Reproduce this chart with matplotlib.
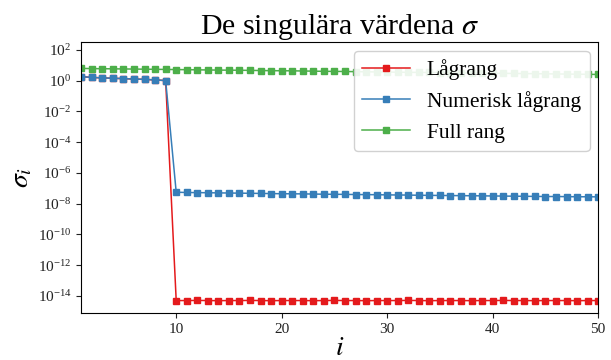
import matplotlib
matplotlib.use('Agg')
from matplotlib import pyplot as plt

plt.rcParams['font.family'] = ['Liberation Serif', 'DejaVu Serif']
plt.rcParams['mathtext.fontset'] = 'stix'

# index i
idx = list(range(1, 51))

# singular values per matrix
lagrang = [1.8, 1.6, 1.5, 1.4, 1.35, 1.25, 1.2, 1.1, 1.0,
           5.0e-15, 5.0e-15, 5.1e-15, 5.0e-15, 4.9e-15, 5.0e-15, 5.0e-15, 5.1e-15, 5.0e-15, 4.9e-15,
           5.0e-15, 5.0e-15, 5.0e-15, 4.9e-15, 5.0e-15, 5.1e-15, 5.0e-15, 5.0e-15, 4.9e-15, 5.0e-15,
           5.0e-15, 5.0e-15, 5.1e-15, 5.0e-15, 4.9e-15, 5.0e-15, 5.0e-15, 5.0e-15, 4.9e-15, 5.0e-15,
           5.0e-15, 5.1e-15, 5.0e-15, 5.0e-15, 4.9e-15, 5.0e-15, 5.0e-15, 5.0e-15, 4.9e-15, 5.0e-15,
           5.0e-15]
numerisk = [1.8, 1.6, 1.5, 1.4, 1.35, 1.25, 1.2, 1.1, 1.0,
            5.5e-8, 5.3e-8, 5.2e-8, 5.1e-8, 5.0e-8, 4.9e-8, 4.8e-8, 4.7e-8, 4.6e-8, 4.5e-8,
            4.4e-8, 4.35e-8, 4.3e-8, 4.2e-8, 4.1e-8, 4.05e-8, 4.0e-8, 3.9e-8, 3.85e-8, 3.8e-8,
            3.7e-8, 3.65e-8, 3.6e-8, 3.5e-8, 3.45e-8, 3.4e-8, 3.35e-8, 3.3e-8, 3.25e-8, 3.2e-8,
            3.15e-8, 3.1e-8, 3.05e-8, 3.0e-8, 2.95e-8, 2.9e-8, 2.9e-8, 2.85e-8, 2.8e-8, 2.8e-8,
            2.75e-8]
full = [6.2, 6.0, 5.9, 5.8, 5.7, 5.6, 5.5, 5.4, 5.3, 5.2, 5.1, 5.0, 4.9, 4.8, 4.75, 4.7,
        4.6, 4.5, 4.4, 4.35, 4.3, 4.2, 4.1, 4.0, 3.95, 3.9, 3.8, 3.7, 3.65, 3.6, 3.5, 3.45,
        3.4, 3.35, 3.3, 3.2, 3.15, 3.1, 3.05, 3.0, 2.95, 2.9, 2.85, 2.8, 2.75, 2.7, 2.65,
        2.6, 2.55, 2.5]

labels = ['Lågrang', 'Numerisk lågrang', 'Full rang']
colors = ['#e41a1c', '#377eb8', '#4daf4a']

fig, ax = plt.subplots(figsize=(6.11, 3.6), dpi=100)
fig.subplots_adjust(left=0.133, right=0.979, top=0.883, bottom=0.131)

for y, lab, c in zip([lagrang, numerisk, full], labels, colors):
    ax.plot(idx, y, color=c, marker='s', markersize=4.5, linewidth=1.1, label=lab)

ax.set_yscale('log')
ax.set_xlim(1, 50)
ax.set_ylim(10**-15.1, 10**2.5)
ax.set_yticks([10.0**k for k in range(-14, 3, 2)])
ax.minorticks_off()
ax.set_xticks([10, 20, 30, 40, 50])
ax.tick_params(labelsize=11, colors='#222222')

ax.set_title(r'De singulära värdena $\sigma$', fontsize=21.5)
ax.set_xlabel(r'$i$', fontsize=20, labelpad=0)
ax.set_ylabel(r'$\sigma_i$', fontsize=20, labelpad=2)
ax.legend(loc='upper right', fontsize=15.5, fancybox=True, framealpha=0.9,
          borderaxespad=0.4, handlelength=2.2)

fig.savefig('out.png')
